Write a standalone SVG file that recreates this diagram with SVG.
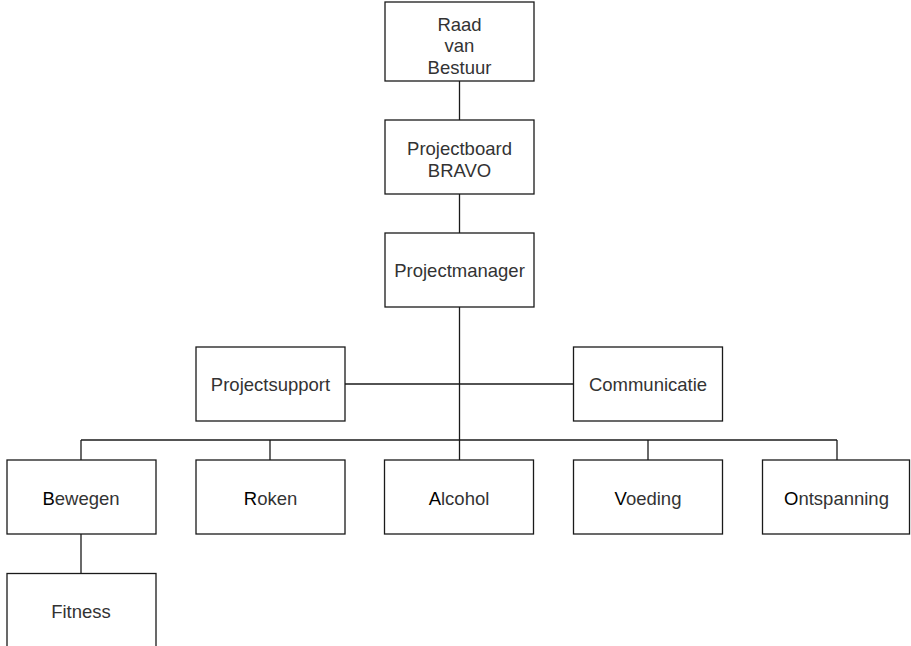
<svg xmlns="http://www.w3.org/2000/svg" width="911" height="646" viewBox="0 0 911 646">
<style>
rect{fill:#fff;stroke:#1a1a1a;stroke-width:1.3}
.c line{stroke:#1a1a1a;stroke-width:1.3}
text{font-family:"Liberation Sans",Arial,sans-serif;font-size:18.5px;fill:#333;text-anchor:middle}
.f{fill:#000}
</style>
<rect x="0" y="0" width="911" height="646" style="stroke:none"/>
<g class="c" id="connectors">
<line x1="459.5" y1="81" x2="459.5" y2="120"/>
<line x1="459.5" y1="194" x2="459.5" y2="233"/>
<line x1="459.5" y1="307" x2="459.5" y2="460"/>
<line x1="344.5" y1="384" x2="573.5" y2="384"/>
<line x1="81" y1="440" x2="837" y2="440"/>
<line x1="81" y1="440" x2="81" y2="460"/>
<line x1="270" y1="440" x2="270" y2="460"/>
<line x1="648" y1="440" x2="648" y2="460"/>
<line x1="837" y1="440" x2="837" y2="460"/>
<line x1="81" y1="534" x2="81" y2="573"/>
</g>
<g id="raad"><rect x="385" y="2" width="149" height="79"/><text x="459.5" y="31">Raad</text><text x="459.5" y="52">van</text><text x="459.5" y="74">Bestuur</text></g>
<g id="projectboard"><rect x="385" y="120" width="149" height="74"/><text x="459.5" y="155">Projectboard</text><text x="459.5" y="177">BRAVO</text></g>
<g id="projectmanager"><rect x="385" y="233" width="149" height="74"/><text x="459.5" y="277">Projectmanager</text></g>
<g id="projectsupport"><rect x="196" y="347" width="149" height="74"/><text x="270.5" y="391">Projectsupport</text></g>
<g id="communicatie"><rect x="573.5" y="347" width="149" height="74"/><text x="648" y="391">Communicatie</text></g>
<g id="bewegen"><rect x="7" y="460" width="149" height="74"/><text x="81" y="505"><tspan class="f">B</tspan>ewegen</text></g>
<g id="roken"><rect x="196" y="460" width="149" height="74"/><text x="270.5" y="505"><tspan class="f">R</tspan>oken</text></g>
<g id="alcohol"><rect x="384.5" y="460" width="149" height="74"/><text x="459" y="505"><tspan class="f">A</tspan>lcohol</text></g>
<g id="voeding"><rect x="573.5" y="460" width="149" height="74"/><text x="648" y="505"><tspan class="f">V</tspan>oeding</text></g>
<g id="ontspanning"><rect x="762.5" y="460" width="147" height="74"/><text x="836.5" y="505"><tspan class="f">O</tspan>ntspanning</text></g>
<g id="fitness"><rect x="7" y="573.5" width="149" height="80"/><text x="81" y="618">Fitness</text></g>
</svg>
